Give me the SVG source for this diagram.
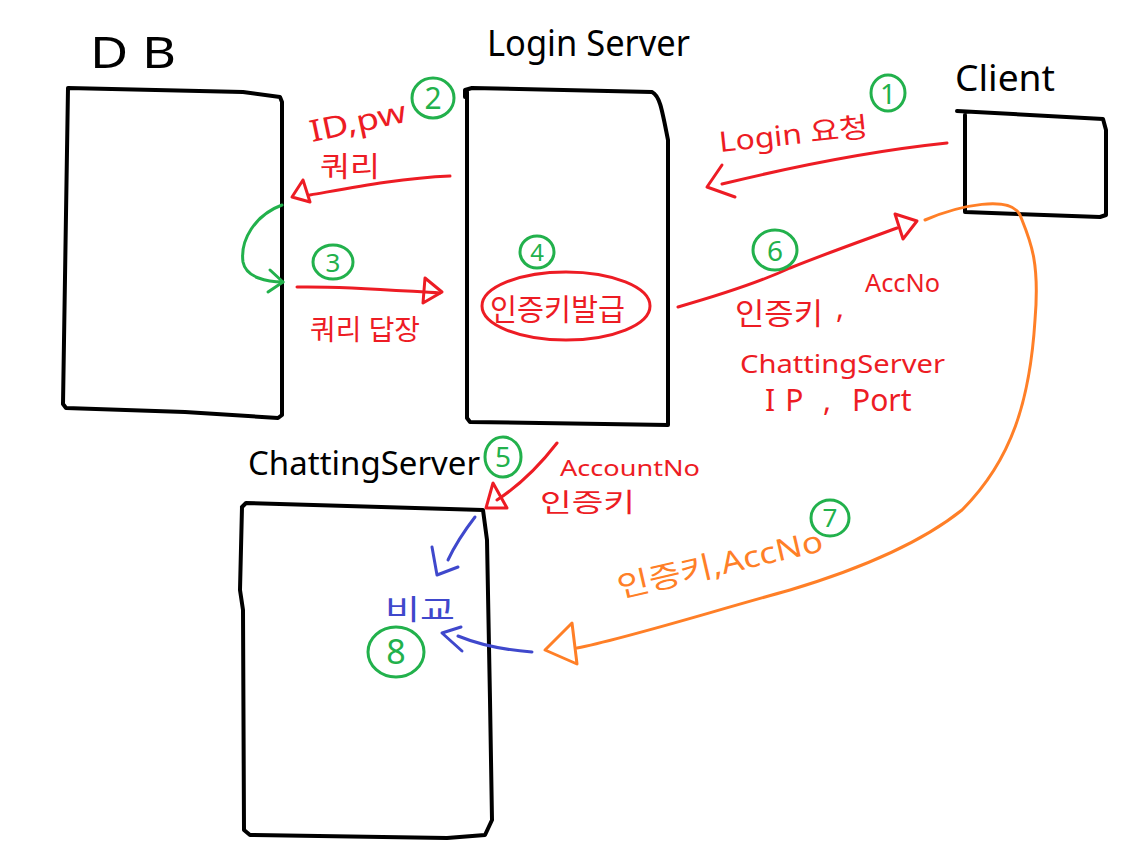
<svg xmlns="http://www.w3.org/2000/svg" width="1142" height="854" viewBox="0 0 1142 854">
<style>
.box{fill:none;stroke:#000;stroke-width:4;stroke-linecap:round;stroke-linejoin:round}
.r{fill:none;stroke:#ed1c24;stroke-width:3;stroke-linecap:round;stroke-linejoin:round}
.g{fill:none;stroke:#22b14c;stroke-width:3;stroke-linecap:round;stroke-linejoin:round}
.b{fill:none;stroke:#3f48cc;stroke-width:3;stroke-linecap:round;stroke-linejoin:round}
.o{fill:none;stroke:#ff7f27;stroke-width:3;stroke-linecap:round;stroke-linejoin:round}
text{font-family:"Noto Sans","Noto Sans CJK KR",sans-serif}
.tk{fill:#000}
.tr{fill:#ed1c24}
.tg{fill:#22b14c}
.tb{fill:#3f48cc}
.to{fill:#ff7f27}
</style>
<rect width="1142" height="854" fill="#fff"/>
<g id="db">
<path class="box" d="M68,88 L243,92 L280,97 L282,102 L282,415 L278,418 L185,412 L66,408 L63,404 L68,88"/>
<text class="tk" x="90" y="68" font-size="44" textLength="86" lengthAdjust="spacingAndGlyphs">D B</text>
</g>
<g id="login">
<path class="box" d="M465,97 L465,90 L472,88 L652,92 C660,96 662,110 668,140 L668,425 L470,422 L467,418 L467,90"/>
<text class="tk" x="487" y="56" font-size="36" textLength="203" lengthAdjust="spacingAndGlyphs">Login Server</text>
</g>
<g id="client">
<path class="box" d="M957,111 L1103,119 L1106,130 L1106,215 L1100,217 L965,212 L965,115"/>
<text class="tk" x="955" y="91" font-size="36" textLength="100" lengthAdjust="spacingAndGlyphs">Client</text>
</g>
<g id="chat">
<path class="box" d="M242,507 L246,503 L483,510 L487,540 L490,700 L492,820 L485,835 L447,838 L250,835 L244,830 L243,610 L240,590 L242,507"/>
<text class="tk" x="248" y="475" font-size="32" textLength="232" lengthAdjust="spacingAndGlyphs">ChattingServer</text>
</g>
<g id="issue">
<ellipse class="r" cx="566" cy="306" rx="84" ry="34"/>
<text class="tr" x="490" y="320" font-size="30" textLength="135" lengthAdjust="spacingAndGlyphs">인증키발급</text>
</g>
<g id="compare">
<text class="tb" x="385" y="620" font-size="28" textLength="70" lengthAdjust="spacingAndGlyphs">비교</text>
</g>
<g id="connectors">
<path class="r" d="M947,143 C880,150 800,165 722,184"/>
<path class="r" d="M722,165 L707,187 L735,197"/>
<text class="tr" x="720" y="152" font-size="28" textLength="150" lengthAdjust="spacingAndGlyphs" transform="rotate(-6 720 152)">Login 요청</text>
<ellipse class="g" cx="888" cy="93" rx="17" ry="18"/>
<text class="tg" x="888" y="104" font-size="28" text-anchor="middle">1</text>
<path class="r" d="M450,176 C400,178 350,188 310,195"/>
<path class="r" d="M303,180 L292,197 L310,202 Z"/>
<text class="tr" x="312" y="142" font-size="30" textLength="98" lengthAdjust="spacingAndGlyphs" transform="rotate(-12 312 142)">ID,pw</text>
<text class="tr" x="320" y="177" font-size="28" textLength="60" lengthAdjust="spacingAndGlyphs">쿼리</text>
<ellipse class="g" cx="433" cy="98" rx="21" ry="20"/>
<text class="tg" x="433" y="109" font-size="30" text-anchor="middle">2</text>
<path class="g" d="M282,205 C255,215 240,240 243,262 C246,278 268,282 283,282"/>
<path class="g" d="M270,270 L283,282 L268,292"/>
<path class="r" d="M297,287 C340,286 390,290 440,293"/>
<path class="r" d="M425,278 L442,292 L423,303 Z"/>
<ellipse class="g" cx="333" cy="262" rx="20" ry="17"/>
<text class="tg" x="333" y="272" font-size="26" text-anchor="middle">3</text>
<text class="tr" x="310" y="340" font-size="28" textLength="110" lengthAdjust="spacingAndGlyphs">쿼리 답장</text>
<ellipse class="g" cx="537" cy="252" rx="17" ry="16"/>
<text class="tg" x="537" y="261" font-size="24" text-anchor="middle">4</text>
<path class="r" d="M678,307 C720,295 760,282 790,268 C830,252 870,238 897,228"/>
<path class="r" d="M895,214 L903,239 L917,221 Z"/>
<ellipse class="g" cx="775" cy="250" rx="22" ry="20"/>
<text class="tg" x="775" y="261" font-size="28" text-anchor="middle">6</text>
<text class="tr" x="735" y="324" font-size="30" textLength="88" lengthAdjust="spacingAndGlyphs">인증키</text>
<text class="tr" x="836" y="318" font-size="30">,</text>
<text class="tr" x="865" y="292" font-size="26" textLength="75" lengthAdjust="spacingAndGlyphs">AccNo</text>
<text class="tr" x="740" y="373" font-size="26" textLength="205" lengthAdjust="spacingAndGlyphs">ChattingServer</text>
<text class="tr" x="765" y="411" font-size="30" letter-spacing="10">IP</text>
<text class="tr" x="823" y="411" font-size="30">,</text>
<text class="tr" x="852" y="411" font-size="30">Port</text>
<path class="r" d="M557,443 C540,465 520,485 497,500"/>
<path class="r" d="M493,483 L486,508 L507,508 Z"/>
<ellipse class="g" cx="503" cy="457" rx="18" ry="20"/>
<text class="tg" x="503" y="467" font-size="28" text-anchor="middle">5</text>
<text class="tr" x="560" y="476" font-size="22" textLength="140" lengthAdjust="spacingAndGlyphs">AccountNo</text>
<text class="tr" x="540" y="512" font-size="26" textLength="95" lengthAdjust="spacingAndGlyphs">인증키</text>
<path class="o" d="M925,220 C960,205 1010,195 1020,215 C1030,240 1040,260 1035,320 C1030,400 1012,460 962,510 C912,550 840,575 790,590 C700,615 620,640 577,648"/>
<path class="o" d="M572,623 L577,664 L545,650 Z"/>
<text class="to" x="620" y="598" font-size="30" textLength="210" lengthAdjust="spacingAndGlyphs" transform="rotate(-13 620 598)">인증키,AccNo</text>
<ellipse class="g" cx="830" cy="518" rx="19" ry="18"/>
<text class="tg" x="830" y="527" font-size="26" text-anchor="middle">7</text>
<path class="b" d="M475,517 C465,530 455,545 448,560"/>
<path class="b" d="M432,547 L437,575 L458,567"/>
<path class="b" d="M532,652 C505,650 480,645 458,636"/>
<path class="b" d="M461,627 L442,633 L462,651"/>
<ellipse class="g" cx="396" cy="652" rx="28" ry="25"/>
<text class="tg" x="396" y="664" font-size="34" text-anchor="middle">8</text>
</g>
</svg>
